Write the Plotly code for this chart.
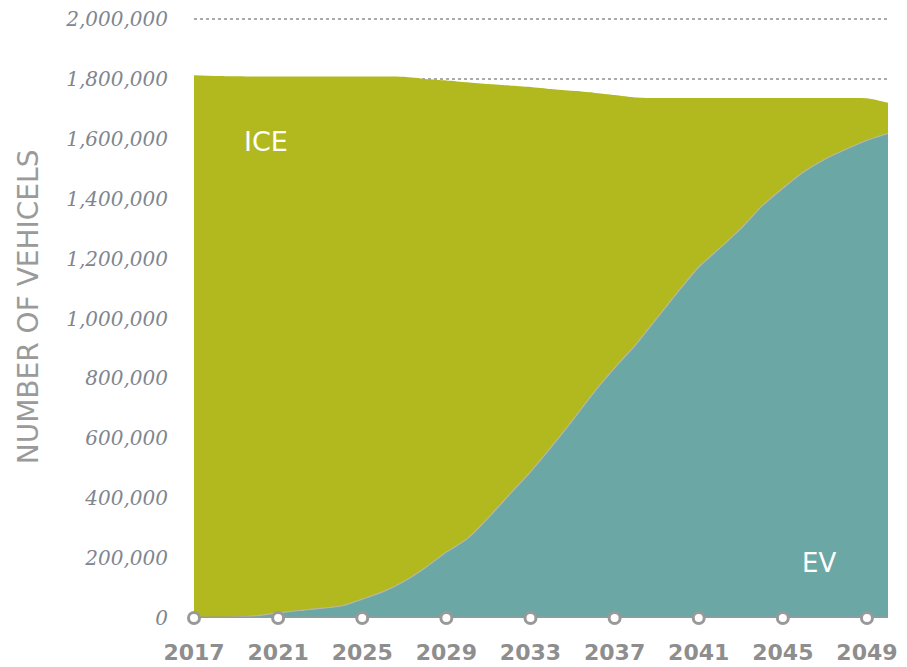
import plotly.graph_objects as go

years = list(range(2017, 2051))
ev = [0, 1000, 3000, 8000, 17000, 25000, 32000, 40000, 63000, 88000,
      123000, 168000, 220000, 265000, 335000, 412000, 488000, 572000, 660000, 752000,
      835000, 912000, 1000000, 1088000, 1172000, 1235000, 1300000, 1375000, 1435000, 1490000,
      1532000, 1565000, 1595000, 1618000]
ice = [1812000, 1809000, 1806000, 1800000, 1791000, 1783000, 1776000, 1768000, 1745000, 1720000,
       1684000, 1632000, 1575000, 1524000, 1448000, 1366000, 1285000, 1194000, 1100000, 1002000,
       911000, 826000, 736000, 648000, 564000, 501000, 436000, 361000, 301000, 246000,
       204000, 171000, 140000, 102000]
tick_years = [2017, 2021, 2025, 2029, 2033, 2037, 2041, 2045, 2049]
y_ticks = [0, 200000, 400000, 600000, 800000, 1000000, 1200000, 1400000, 1600000, 1800000, 2000000]
y_labels = ["0", "200,000", "400,000", "600,000", "800,000", "1,000,000", "1,200,000",
            "1,400,000", "1,600,000", "1,800,000", "2,000,000"]

GREEN = "#b1b91f"
TEAL = "#6ba7a5"
GRAY = "#999999"

fig = go.Figure()
fig.add_trace(go.Scatter(x=years, y=ev, stackgroup="one", mode="lines",
                         line=dict(color="#b5b5a8", width=1.2, shape="spline", smoothing=0.6),
                         fillcolor=TEAL, hoverinfo="skip", name="EV"))
fig.add_trace(go.Scatter(x=years, y=ice, stackgroup="one", mode="lines",
                         line=dict(color=GREEN, width=0, shape="spline", smoothing=0.6),
                         fillcolor=GREEN, hoverinfo="skip", name="ICE"))
# baseline axis line
fig.add_trace(go.Scatter(x=[years[0], years[-1]], y=[0, 0], mode="lines",
                         line=dict(color=GRAY, width=3), hoverinfo="skip",
                         cliponaxis=False, showlegend=False))
# tick circles
fig.add_trace(go.Scatter(x=tick_years, y=[0] * len(tick_years), mode="markers",
                         marker=dict(size=11, color="white", line=dict(color=GRAY, width=3)),
                         hoverinfo="skip", cliponaxis=False, showlegend=False))

fig.add_annotation(x=2020.4, y=1590000, text="ICE", showarrow=False,
                   font=dict(family="DejaVu Sans", size=27, color="white"))
fig.add_annotation(x=2046.7, y=184000, text="EV", showarrow=False,
                   font=dict(family="DejaVu Sans", size=26, color="white"))
fig.add_annotation(xref="paper", yref="paper", x=-0.238, y=0.515, text="NUMBER OF VEHICELS",
                   textangle=-90, showarrow=False, xanchor="center", yanchor="middle",
                   font=dict(family="DejaVu Sans", size=28, color="#9a9a9a"))

fig.update_layout(
    width=907, height=667,
    margin=dict(l=194, r=19, t=13, b=49, autoexpand=False),
    paper_bgcolor="white", plot_bgcolor="white",
    showlegend=False,
    xaxis=dict(range=[2017, 2050], tickvals=tick_years, ticktext=[str(t) for t in tick_years],
               showgrid=False, zeroline=False, showline=False, ticks="",
               ticklabelstandoff=19, automargin=False,
               tickfont=dict(family="DejaVu Sans", size=22, color="#8e8e8e", weight="bold")),
    yaxis=dict(range=[0, 2020000], tickvals=y_ticks, ticktext=y_labels,
               showgrid=True, gridcolor="#aaaaaa", griddash="dot", gridwidth=2,
               zeroline=False, showline=False, ticks="", ticklabelstandoff=25, automargin=False,
               tickfont=dict(family="DejaVu Serif", size=20, color="#80868f", style="italic")),
)

fig.write_html("out.html")
